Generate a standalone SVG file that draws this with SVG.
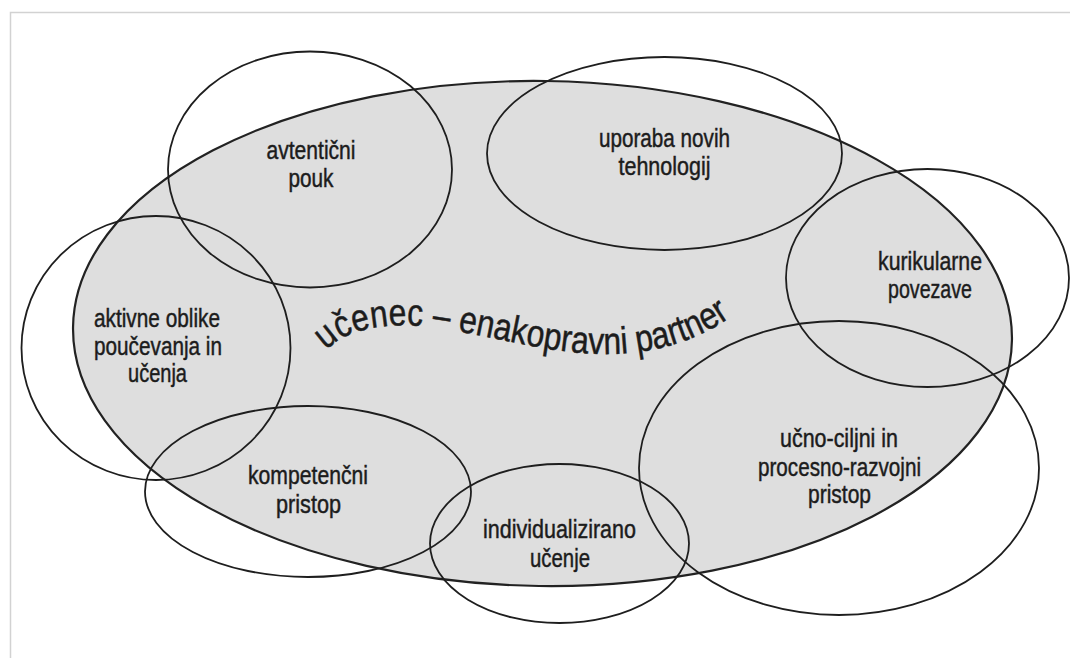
<svg xmlns="http://www.w3.org/2000/svg" width="1070" height="658" viewBox="0 0 1070 658">
<defs>
<style>
.bg{fill:#ffffff}
.frame{fill:none;stroke:#d2d2d2;stroke-width:1.5}
.core{fill:#dedede;stroke:#222;stroke-width:2.2}
.ring{fill:none;stroke:#1e1e1e;stroke-width:1.8}
.lbl{font-family:"Liberation Sans Narrow","Liberation Sans",Arial,sans-serif;font-size:25px;fill:#1c1c1c;stroke:#1c1c1c;stroke-width:0.45;text-anchor:middle}
.title{font-family:"Liberation Sans Narrow","Liberation Sans",Arial,sans-serif;font-size:38px;fill:#1c1c1c;stroke:#1c1c1c;stroke-width:0.5}
</style>
<path id="arc" d="M 325,352 C 350,322 410,322 450,330 C 500,338 560,356 615,354 C 660,352 700,340 738,312"/>
</defs>
<rect class="bg" x="0" y="0" width="1070" height="658"/>
<rect class="frame" x="10.5" y="12.5" width="1080" height="670"/>
<g id="center">
<ellipse class="core" cx="542.5" cy="333.5" rx="469.5" ry="252.5" transform="rotate(0.8 542.5 333.5)"/>
</g>
<g id="connectors"></g>
<g id="n-avtenticni">
<ellipse class="ring" cx="310" cy="169.5" rx="142" ry="118"/>
<text class="lbl" x="311" y="159" textLength="89" lengthAdjust="spacingAndGlyphs">avtentični</text>
<text class="lbl" x="311" y="187" textLength="45" lengthAdjust="spacingAndGlyphs">pouk</text>
</g>
<g id="n-uporaba">
<ellipse class="ring" cx="664.5" cy="153.5" rx="177.5" ry="96.5"/>
<text class="lbl" x="664.5" y="147" textLength="131" lengthAdjust="spacingAndGlyphs">uporaba novih</text>
<text class="lbl" x="664.5" y="175" textLength="92" lengthAdjust="spacingAndGlyphs">tehnologij</text>
</g>
<g id="n-kurikularne">
<ellipse class="ring" cx="927.5" cy="278" rx="141.5" ry="109"/>
<text class="lbl" x="930" y="270" textLength="104" lengthAdjust="spacingAndGlyphs">kurikularne</text>
<text class="lbl" x="930" y="298" textLength="84" lengthAdjust="spacingAndGlyphs">povezave</text>
</g>
<g id="n-aktivne">
<ellipse class="ring" cx="156" cy="348" rx="134.5" ry="132"/>
<text class="lbl" x="157" y="327" textLength="126" lengthAdjust="spacingAndGlyphs">aktivne oblike</text>
<text class="lbl" x="158" y="355" textLength="128" lengthAdjust="spacingAndGlyphs">poučevanja in</text>
<text class="lbl" x="157.5" y="382" textLength="59" lengthAdjust="spacingAndGlyphs">učenja</text>
</g>
<g id="n-kompetencni">
<ellipse class="ring" cx="308" cy="491.5" rx="163" ry="85.5"/>
<text class="lbl" x="308" y="484" textLength="120" lengthAdjust="spacingAndGlyphs">kompetenčni</text>
<text class="lbl" x="308.5" y="513" textLength="65" lengthAdjust="spacingAndGlyphs">pristop</text>
</g>
<g id="n-individualizirano">
<ellipse class="ring" cx="559.5" cy="543.5" rx="129.5" ry="79.5"/>
<text class="lbl" x="559.5" y="538" textLength="153" lengthAdjust="spacingAndGlyphs">individualizirano</text>
<text class="lbl" x="560" y="567" textLength="60" lengthAdjust="spacingAndGlyphs">učenje</text>
</g>
<g id="n-ucno-ciljni">
<ellipse class="ring" cx="839" cy="468" rx="200" ry="147"/>
<text class="lbl" x="839" y="447" textLength="118" lengthAdjust="spacingAndGlyphs">učno-ciljni in</text>
<text class="lbl" x="839.5" y="476" textLength="163" lengthAdjust="spacingAndGlyphs">procesno-razvojni</text>
<text class="lbl" x="839.5" y="503" textLength="63" lengthAdjust="spacingAndGlyphs">pristop</text>
</g>
<g id="center-label">
<text class="title"><textPath href="#arc" startOffset="2" textLength="420" lengthAdjust="spacingAndGlyphs">učenec – enakopravni partner</textPath></text>
</g>
</svg>
